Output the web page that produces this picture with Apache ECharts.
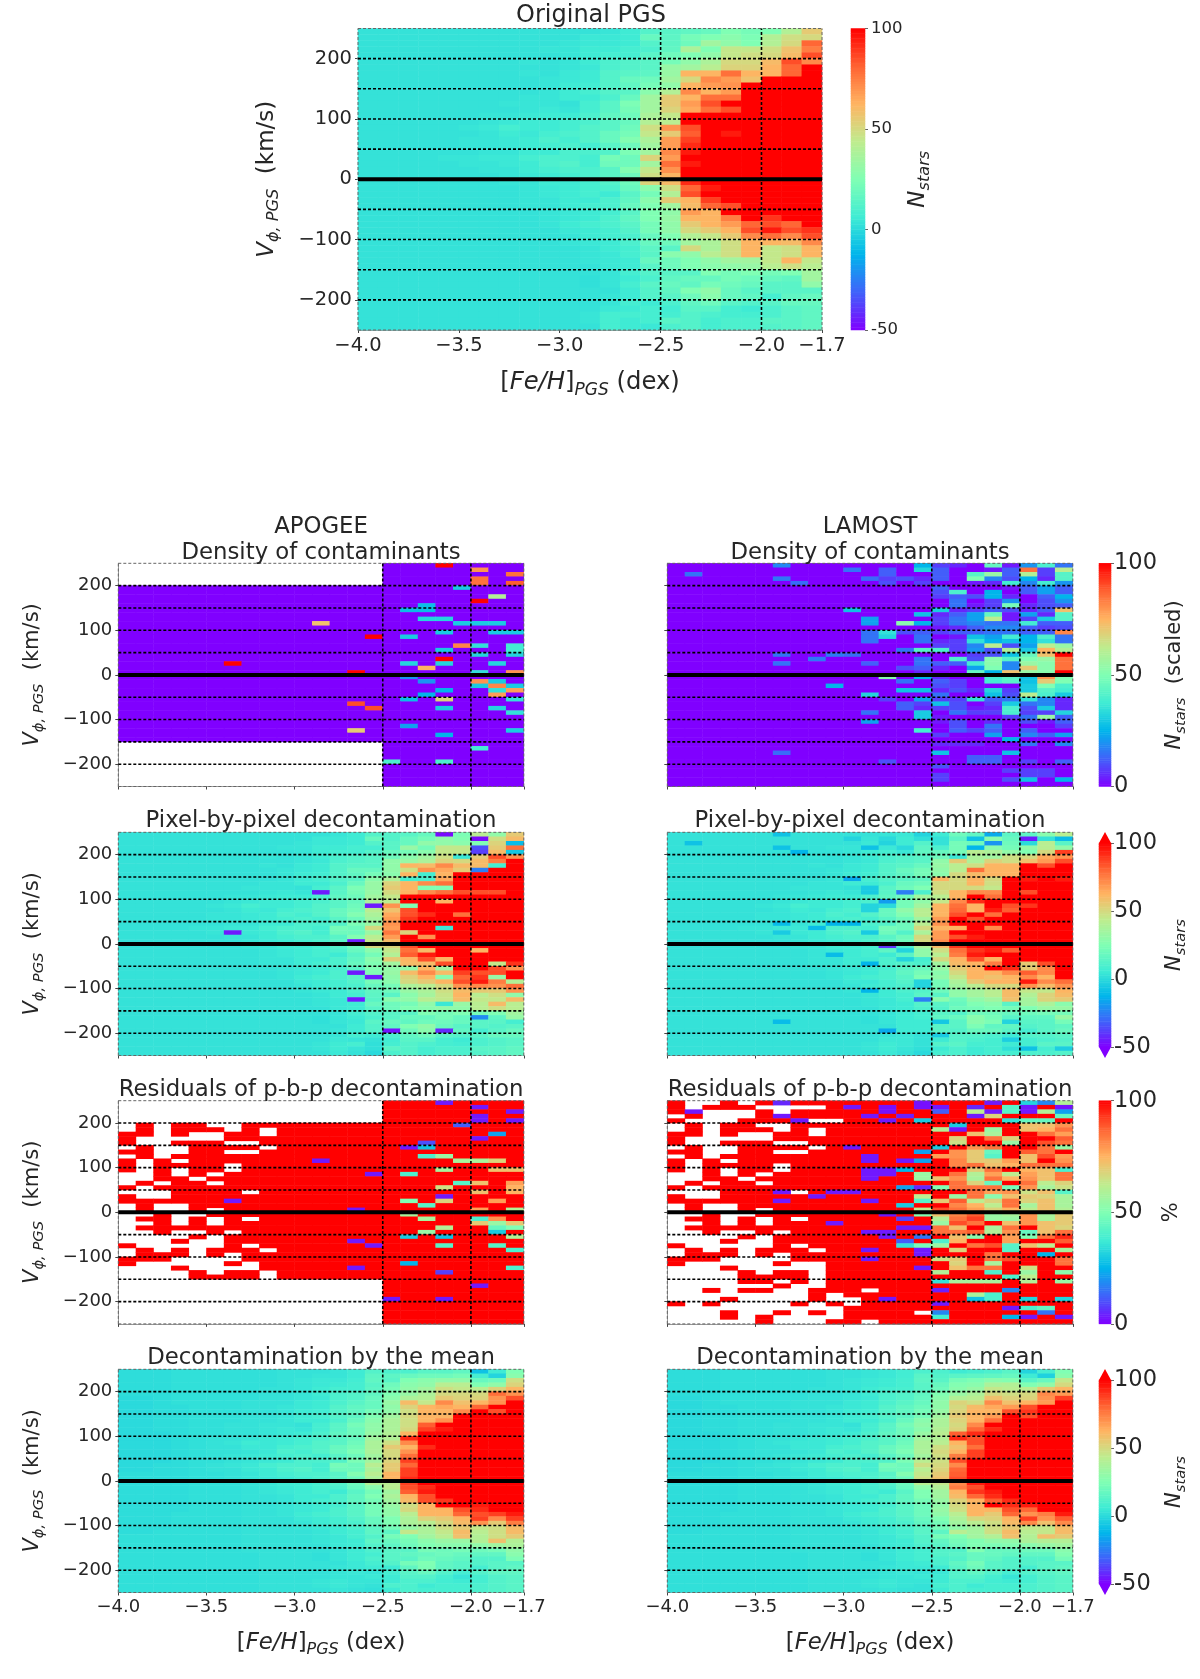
<!DOCTYPE html>
<html><head><meta charset="utf-8">
<style>html,body{margin:0;padding:0;background:#fff}#c{width:1200px;height:1679px;filter:blur(0.5px)}</style>
<script src="https://cdn.jsdelivr.net/npm/echarts@6/dist/echarts.min.js"></script>
</head><body><div id="c"></div>
<script>
const R=100,_=null;
const fehBins=['-4.0','-3.9','-3.8','-3.7','-3.6','-3.5','-3.4','-3.3','-3.2','-3.1','-3.0','-2.9','-2.8','-2.7','-2.6','-2.5','-2.4','-2.3','-2.2','-2.1','-2.0','-1.9','-1.8'];
const vphiBins=[240,230,220,210,200,190,180,170,160,150,140,130,120,110,100,90,80,70,60,50,40,30,20,10,0,-10,-20,-30,-40,-50,-60,-70,-80,-90,-100,-110,-120,-130,-140,-150,-160,-170,-180,-190,-200,-210,-220,-230,-240,-250];
const fehTicks=[-4,-3.5,-3,-2.5,-2,-1.7];
const vphiTicks=[-200,-100,0,100,200];
const dashedVphi=[200,150,100,50,-50,-100,-150,-200];
const dashedFeh=[-2.5,-2];
const originalPgs=[
[3,3,3,3,3,3,3,3,3,3,3,3,4,6,12,14,16,18,25,22,25,40,55],
[3,3,3,3,3,3,3,3,3,3,3,5,5,6,18,15,22,25,28,24,40,48,50],
[3,3,3,3,3,3,3,3,3,3,4,5,5,6,12,15,20,35,30,25,40,50,80],
[3,3,3,3,3,3,3,3,3,4,4,6,6,8,10,16,38,25,45,45,48,58,75],
[3,3,3,3,3,3,3,3,3,3,4,6,8,8,14,20,25,30,45,48,50,60,85],
[3,3,3,3,3,3,3,3,4,3,4,6,10,12,14,22,30,38,50,50,60,85,72],
[3,3,3,3,3,3,3,3,3,3,4,5,10,12,14,32,35,42,52,52,62,80,R],
[3,3,3,3,3,3,3,3,4,3,5,6,12,14,15,32,62,62,78,62,62,80,R],
[3,3,3,3,3,3,3,3,3,4,5,6,12,18,20,35,50,72,68,58,R,R,R],
[3,3,3,3,3,3,3,3,3,4,6,7,12,16,22,30,62,68,70,R,R,R,R],
[3,3,3,3,3,3,3,3,3,4,6,8,12,14,28,40,72,62,68,R,R,R,R],
[3,3,3,3,3,3,3,3,4,4,6,6,10,18,35,55,62,78,78,R,R,R,R],
[3,3,3,3,3,3,3,4,4,4,3,8,14,24,35,55,68,85,R,R,R,R,R],
[3,3,3,3,3,3,3,3,4,5,4,8,14,22,35,52,65,78,85,R,R,R,R],
[3,3,3,3,3,3,4,4,5,6,6,10,16,20,38,45,R,R,R,R,R,R,R],
[3,3,3,3,3,3,4,5,6,6,8,10,14,18,40,42,R,R,R,R,R,R,R],
[3,3,3,3,3,4,5,8,6,6,8,12,14,20,48,70,85,R,R,R,R,R,R],
[3,3,3,3,3,3,4,6,5,8,10,12,18,22,45,55,82,R,95,R,R,R,R],
[3,3,3,3,3,4,4,5,6,10,8,12,18,26,38,68,88,R,R,R,R,R,R],
[3,3,3,3,3,4,4,5,6,8,10,8,14,20,35,68,92,R,R,R,R,R,R],
[3,3,3,3,3,3,4,4,6,6,10,10,12,24,35,72,95,R,R,R,R,R,R],
[3,3,3,3,4,4,5,5,8,10,10,8,22,20,52,68,R,R,R,R,R,R,R],
[3,3,3,3,3,4,4,5,6,10,12,8,20,20,35,78,95,R,R,R,R,R,R],
[3,3,3,3,3,3,4,4,6,8,10,10,14,26,45,70,R,R,R,R,R,R,R],
[3,3,3,3,3,3,3,4,5,6,8,10,14,20,48,62,R,R,R,R,R,R,R],
[3,3,3,3,3,3,3,4,4,6,6,8,12,20,52,60,92,R,R,R,R,R,R],
[3,3,3,3,3,3,3,3,4,5,6,8,10,18,28,48,80,95,R,R,R,R,R],
[3,3,3,3,3,3,3,3,4,5,6,8,6,14,22,40,85,R,R,R,R,R,R],
[3,3,3,3,3,3,3,3,4,4,6,6,10,16,28,55,62,88,R,R,R,R,R],
[3,3,3,3,3,3,3,3,4,4,6,8,10,18,25,35,60,80,85,R,R,R,R],
[3,3,3,3,3,3,3,3,3,4,5,6,8,14,25,30,68,62,R,R,R,R,R],
[3,3,3,3,3,3,3,3,3,4,5,6,10,16,25,32,62,62,75,R,90,R,R],
[3,3,3,3,3,3,3,3,3,4,6,8,10,14,22,30,55,62,68,80,85,80,R],
[3,3,3,3,3,3,3,3,3,3,5,6,8,12,22,30,50,55,62,85,95,85,90],
[3,3,3,3,3,3,3,3,3,3,4,6,8,10,18,25,40,45,55,72,78,72,85],
[3,3,3,3,3,3,3,3,3,3,4,5,6,10,18,20,35,38,48,62,62,60,72],
[3,3,3,3,3,3,3,3,3,3,3,4,6,8,15,14,50,38,48,62,45,48,62],
[3,3,3,3,3,3,3,3,3,3,3,4,5,8,14,28,30,42,48,62,45,48,62],
[3,3,3,3,3,3,3,3,3,3,3,4,5,6,18,20,25,30,35,35,45,62,45],
[3,3,3,3,3,3,3,3,3,3,3,3,5,6,14,20,25,28,30,32,42,48,42],
[3,3,3,3,3,3,3,3,3,3,3,3,4,8,12,14,14,25,22,25,22,25,35],
[3,3,3,3,3,3,3,3,3,3,3,2,4,6,10,16,18,18,22,20,18,16,35],
[3,3,3,3,3,3,3,3,3,3,3,2,4,8,14,18,16,22,20,18,14,14,30],
[3,3,3,3,3,3,3,3,3,3,3,3,3,6,12,16,25,30,18,14,14,14,14],
[3,3,3,3,3,3,3,3,3,3,3,3,4,6,12,14,20,28,18,16,8,16,18],
[3,3,3,3,3,3,3,3,3,3,3,3,4,8,6,10,16,20,14,12,14,18,18],
[3,3,3,3,3,3,3,3,3,3,3,3,5,6,8,7,14,14,8,6,10,14,16],
[3,3,3,3,3,3,3,3,3,3,3,4,8,8,8,8,12,10,8,8,10,14,16],
[3,3,3,3,3,3,3,3,3,3,3,4,8,6,8,14,12,8,10,10,14,14,16],
[3,3,3,3,3,3,3,3,3,3,3,3,8,6,5,10,12,8,10,10,12,14,16]];
const apogeeDensity=[
[_,_,_,_,_,_,_,_,_,_,_,_,_,_,_,0,0,0,R,0,0,0,0],
[_,_,_,_,_,_,_,_,_,_,_,_,_,_,_,0,0,0,0,0,80,0,0],
[_,_,_,_,_,_,_,_,_,_,_,_,_,_,_,0,0,0,0,0,0,0,85],
[_,_,_,_,_,_,_,_,_,_,_,_,_,_,_,0,0,0,0,0,85,0,0],
[_,_,_,_,_,_,_,_,_,_,_,_,_,_,_,0,0,0,0,0,85,0,88],
[0,0,0,0,0,0,0,0,0,0,0,0,0,0,0,0,0,0,0,30,0,0,0],
[0,0,0,0,0,0,0,0,0,0,0,0,0,0,0,0,0,0,0,0,0,0,0],
[0,0,0,0,0,0,0,0,0,0,0,0,0,0,0,0,0,0,0,0,0,60,0],
[0,0,0,0,0,0,0,0,0,0,0,0,0,0,0,0,0,0,0,0,R,0,0],
[0,0,0,0,0,0,0,0,0,0,0,0,0,0,0,0,0,27,0,0,0,0,0],
[0,0,0,0,0,0,0,0,0,0,0,0,0,0,0,0,27,27,0,0,0,0,0],
[0,0,0,0,0,0,0,0,0,0,0,0,0,0,0,0,0,0,0,0,0,0,0],
[0,0,0,0,0,0,0,0,0,0,0,0,0,0,0,0,0,32,32,0,0,0,0],
[0,0,0,0,0,0,0,0,0,0,0,72,0,0,0,0,0,0,0,30,30,30,0],
[0,0,0,0,0,0,0,0,0,0,0,0,0,0,0,0,0,0,0,0,0,0,0],
[0,0,0,0,0,0,0,0,0,0,0,0,0,0,0,0,0,0,30,0,0,30,30],
[0,0,0,0,0,0,0,0,0,0,0,0,0,0,R,0,30,0,0,0,0,0,0],
[0,0,0,0,0,0,0,0,0,0,0,0,0,0,0,0,0,0,0,0,0,0,0],
[0,0,0,0,0,0,0,0,0,0,0,0,0,0,0,0,0,0,0,82,35,0,38],
[0,0,0,0,0,0,0,0,0,0,0,0,0,0,0,0,0,0,30,0,0,0,38],
[0,0,0,0,0,0,0,0,0,0,0,0,0,0,0,0,0,0,0,0,32,0,32],
[0,0,0,0,0,0,0,0,0,0,0,0,0,0,0,0,0,0,R,0,0,0,0],
[0,0,0,0,0,0,R,0,0,0,0,0,0,0,0,0,32,0,32,0,0,32,0],
[0,0,0,0,0,0,0,0,0,0,0,0,0,0,0,0,0,75,0,0,0,0,0],
[0,0,0,0,0,0,0,0,0,0,0,0,0,R,0,0,0,0,0,0,35,0,80],
[0,0,0,0,0,0,0,0,0,0,0,0,0,0,0,0,20,0,0,0,0,0,0],
[0,0,0,0,0,0,0,0,0,0,0,0,0,0,0,0,0,20,0,0,80,30,0],
[0,0,0,0,0,0,0,0,0,0,0,0,0,0,0,0,0,0,0,0,30,82,30],
[0,0,0,0,0,0,0,0,0,0,0,0,0,0,0,0,0,0,25,0,0,35,78],
[0,0,0,0,0,0,0,0,0,0,0,0,0,0,0,0,0,25,0,0,0,78,0],
[0,0,0,0,0,0,0,0,0,0,0,0,0,0,0,0,27,0,68,0,0,0,35],
[0,0,0,0,0,0,0,0,0,0,0,0,0,90,0,0,0,0,0,0,0,0,0],
[0,0,0,0,0,0,0,0,0,0,0,0,0,0,90,0,0,0,30,0,0,32,0],
[0,0,0,0,0,0,0,0,0,0,0,0,0,0,0,0,0,0,0,0,0,0,35],
[0,0,0,0,0,0,0,0,0,0,0,0,0,0,0,0,0,0,0,0,0,0,0],
[0,0,0,0,0,0,0,0,0,0,0,0,0,0,0,0,0,0,0,0,0,0,0],
[0,0,0,0,0,0,0,0,0,0,0,0,0,0,0,0,22,0,0,0,0,0,0],
[0,0,0,0,0,0,0,0,0,0,0,0,0,70,0,0,0,0,0,0,0,0,30],
[0,0,0,0,0,0,0,0,0,0,0,0,0,0,0,0,0,0,25,0,0,0,0],
[0,0,0,0,0,0,0,0,0,0,0,0,0,0,0,0,0,0,0,0,0,0,0],
[_,_,_,_,_,_,_,_,_,_,_,_,_,_,_,0,0,0,0,0,0,0,0],
[_,_,_,_,_,_,_,_,_,_,_,_,_,_,_,0,0,0,0,0,38,0,0],
[_,_,_,_,_,_,_,_,_,_,_,_,_,_,_,0,0,0,0,0,0,0,0],
[_,_,_,_,_,_,_,_,_,_,_,_,_,_,_,0,0,0,0,0,0,0,0],
[_,_,_,_,_,_,_,_,_,_,_,_,_,_,_,40,0,0,40,0,0,0,0],
[_,_,_,_,_,_,_,_,_,_,_,_,_,_,_,0,0,0,0,0,0,0,0],
[_,_,_,_,_,_,_,_,_,_,_,_,_,_,_,0,0,0,0,0,0,0,0],
[_,_,_,_,_,_,_,_,_,_,_,_,_,_,_,0,0,0,0,0,0,0,0],
[_,_,_,_,_,_,_,_,_,_,_,_,_,_,_,0,0,0,0,0,0,0,0],
[_,_,_,_,_,_,_,_,_,_,_,_,_,_,_,0,0,0,0,0,0,0,0]];
const lamostDensity=[
[0,0,0,0,0,0,18,0,0,0,0,0,0,0,25,8,5,0,45,3,20,40,15],
[0,0,0,0,0,0,0,0,0,0,15,0,12,0,32,12,0,0,3,12,85,8,62],
[0,15,0,0,0,0,0,0,0,0,0,0,12,0,0,12,0,42,55,12,60,8,42],
[0,0,0,0,0,0,16,0,0,0,0,14,8,10,5,12,0,50,18,10,25,5,42],
[0,0,0,0,0,0,0,14,0,0,0,0,10,0,8,0,0,3,5,38,18,38,20],
[0,0,0,0,0,0,0,0,0,0,0,0,0,0,0,12,0,0,0,3,12,22,12],
[0,0,0,0,0,0,0,0,0,0,0,0,0,0,0,10,40,0,25,0,12,22,12],
[0,0,0,0,0,0,0,0,0,0,0,0,0,0,0,8,12,10,25,5,0,12,25],
[0,0,0,0,0,0,0,0,0,0,0,0,0,0,0,0,15,0,8,20,0,10,20],
[0,0,0,0,0,0,0,0,0,0,0,0,0,0,0,0,15,3,8,48,5,10,12],
[0,0,0,0,0,0,0,0,0,0,28,0,0,0,0,30,5,8,12,10,5,12,72],
[0,0,0,0,0,0,0,0,0,0,0,0,0,0,28,5,12,22,45,3,22,5,42],
[0,0,0,0,0,0,0,0,0,0,0,22,0,0,0,8,15,22,62,3,8,30,42],
[0,0,0,0,0,0,0,0,0,0,0,22,0,52,25,8,15,18,15,15,38,12,12],
[0,0,0,0,0,0,0,0,0,0,0,0,0,0,0,3,5,12,18,18,12,8,10],
[0,0,0,0,0,0,0,0,0,0,0,15,35,10,12,8,12,12,15,15,12,12,82],
[0,0,0,0,0,0,0,0,0,0,0,15,32,0,15,0,3,28,22,38,25,40,15],
[0,0,0,0,0,0,0,0,0,0,0,15,0,0,15,5,8,35,25,28,25,35,15],
[0,0,0,0,0,0,0,0,0,0,0,0,0,0,0,8,8,18,62,10,22,62,55],
[0,0,0,0,0,0,0,0,0,0,0,0,0,15,42,40,8,20,10,60,30,75,60],
[0,0,0,0,0,0,15,0,0,16,14,0,0,0,0,0,0,8,10,28,45,72,R],
[0,0,0,0,0,0,0,0,16,0,0,0,0,0,15,0,40,10,52,42,50,55,85],
[0,0,0,0,0,0,15,0,0,0,0,12,0,0,15,12,12,38,52,18,55,52,85],
[0,0,0,0,0,0,0,0,0,0,0,0,0,10,12,5,0,22,50,18,70,52,85],
[0,0,0,0,0,0,0,0,0,0,0,0,0,0,5,0,0,45,25,72,55,52,R],
[0,0,0,0,0,0,0,0,0,0,0,0,52,0,25,5,0,0,38,42,28,80,50],
[0,0,0,0,0,0,0,0,0,0,0,0,0,15,0,12,8,0,38,42,28,70,50],
[0,0,0,0,0,0,0,0,0,25,0,0,0,0,0,10,8,0,0,0,30,50,40],
[0,0,0,0,0,0,0,0,0,0,0,0,0,28,28,5,10,5,32,8,30,42,38],
[0,0,0,0,0,0,0,0,0,0,0,32,0,0,0,15,0,0,28,10,62,40,30],
[0,0,0,0,0,0,0,0,0,0,0,0,8,0,22,8,8,35,12,15,35,18,5],
[0,0,0,0,0,0,0,0,0,0,0,0,0,12,8,28,10,0,8,30,15,18,5],
[0,0,0,0,0,0,0,0,0,0,0,0,0,12,5,8,10,3,5,40,10,30,5],
[0,0,0,0,0,0,0,0,0,0,0,15,0,0,30,0,15,8,8,40,8,8,32],
[0,0,0,0,0,0,0,0,0,0,0,0,0,0,30,3,0,0,0,8,15,55,12],
[0,0,0,0,0,0,0,0,0,0,0,22,0,0,0,3,10,0,5,0,10,3,12],
[0,0,0,0,0,0,0,0,0,0,0,0,0,0,0,0,10,0,15,0,0,0,8],
[0,0,0,0,0,0,0,0,0,0,0,0,0,0,38,0,12,8,12,0,12,0,0],
[0,0,0,0,0,0,0,0,0,0,0,0,0,0,0,8,0,0,22,0,18,12,22],
[0,0,0,0,0,0,0,0,0,0,0,0,0,0,0,0,0,0,0,25,0,0,0],
[0,0,0,0,0,0,0,0,0,0,0,0,0,0,0,5,5,5,0,0,15,0,18],
[0,0,0,0,0,0,0,0,0,0,0,0,0,0,0,0,0,0,0,0,0,0,0],
[0,0,0,0,0,0,14,0,0,0,0,0,0,0,0,28,0,0,0,28,0,0,0],
[0,0,0,0,0,0,0,0,0,0,0,0,0,0,0,0,0,12,12,0,0,0,0],
[0,0,0,0,0,0,0,0,0,0,0,0,10,0,0,0,0,12,12,0,8,0,12],
[0,0,0,0,0,0,0,0,0,0,0,0,0,0,0,10,0,0,0,0,0,0,0],
[0,0,0,0,0,0,0,0,0,0,0,0,0,0,0,0,0,0,0,8,8,8,0],
[0,0,0,0,0,0,0,0,0,0,0,0,0,0,0,8,0,0,0,0,8,8,0],
[0,0,0,0,0,0,0,0,0,0,0,0,0,0,0,8,0,0,0,10,28,0,25],
[0,0,0,0,0,0,0,0,0,0,0,0,0,0,0,0,0,0,0,0,0,0,0]];
const apogeePixel=[
[3,3,3,3,3,3,3,3,3,3,3,3,4,6,12,12,14,18,-48,24,42,30,55],
[3,3,3,3,3,3,3,3,3,3,3,5,5,6,18,12,18,22,30,26,-48,48,60],
[3,3,3,3,3,3,3,3,3,3,4,5,5,6,12,14,18,30,30,28,25,52,-10],
[3,3,3,3,3,3,3,3,3,4,4,6,6,8,8,14,32,22,45,45,-35,55,78],
[3,3,3,3,3,3,3,3,3,3,4,6,8,8,12,18,22,28,45,45,-38,60,-6],
[3,3,3,3,3,3,3,3,4,3,4,6,10,12,14,20,28,35,48,5,55,85,70],
[3,3,3,3,3,3,3,3,3,3,4,5,10,12,14,30,32,38,52,50,60,75,R],
[3,3,3,3,3,3,3,3,4,3,5,6,12,14,14,30,62,60,72,60,60,8,R],
[3,3,3,3,3,3,3,3,3,4,5,6,12,18,18,30,48,70,65,55,-25,R,R],
[3,3,3,3,3,3,3,3,3,4,6,7,12,16,22,28,62,8,62,R,R,R,R],
[3,3,3,3,3,3,3,3,3,4,6,8,12,14,28,38,8,10,65,R,R,R,R],
[3,3,3,3,3,3,3,3,4,4,6,6,10,18,32,52,62,72,78,R,R,R,R],
[3,3,3,3,3,3,3,4,4,4,3,8,14,24,32,55,62,25,25,R,R,R,R],
[3,3,3,3,3,3,3,3,4,5,4,-45,14,22,32,50,62,72,78,85,85,85,R],
[3,3,3,3,3,3,4,4,5,6,6,10,16,20,35,45,R,R,R,R,R,R,R],
[3,3,3,3,3,3,4,5,6,6,8,10,14,18,38,42,R,R,62,R,R,R,R],
[3,3,3,3,3,4,5,8,6,6,8,12,14,20,-45,70,25,R,R,R,R,R,R],
[3,3,3,3,3,3,4,6,5,8,10,12,18,22,42,58,85,R,R,R,R,R,R],
[3,3,3,3,3,4,4,5,6,10,8,12,18,26,38,65,85,92,R,78,R,R,R],
[3,3,3,3,3,4,4,5,6,8,10,8,14,20,35,68,90,R,R,R,R,R,R],
[3,3,3,3,3,3,4,4,6,6,10,10,12,24,33,70,R,R,R,R,R,R,R],
[3,3,3,3,4,4,5,5,8,10,10,8,22,20,50,68,R,R,5,R,R,R,R],
[3,3,3,3,3,4,-45,5,6,10,12,8,20,20,33,76,52,R,R,R,R,R,R],
[3,3,3,3,3,3,4,4,6,8,10,10,14,26,42,68,R,70,R,R,R,R,R],
[3,3,3,3,3,3,3,4,5,6,8,10,14,-45,45,60,R,R,R,R,R,R,R],
[3,3,3,3,3,3,3,4,4,6,6,8,12,20,50,52,85,R,R,R,R,R,R],
[3,3,3,3,3,3,3,3,4,5,6,8,10,18,28,45,78,60,R,R,62,R,R],
[3,3,3,3,3,3,3,3,4,5,6,8,6,14,22,40,82,95,R,R,R,R,R],
[3,3,3,3,3,3,3,3,4,4,6,6,10,16,28,55,62,85,62,R,R,R,R],
[3,3,3,3,3,3,3,3,4,4,6,8,10,18,25,35,60,60,85,R,R,45,90],
[3,3,3,3,3,3,3,3,3,4,5,6,8,14,25,30,30,62,35,R,R,85,70],
[3,3,3,3,3,3,3,3,3,4,5,6,10,-45,25,32,60,72,60,88,85,85,R],
[3,3,3,3,3,3,3,3,3,4,6,8,10,14,-45,30,52,62,28,80,90,32,R],
[3,3,3,3,3,3,3,3,3,3,5,6,8,12,22,28,50,55,62,85,95,75,40],
[3,3,3,3,3,3,3,3,3,3,4,6,8,10,18,22,38,42,50,70,72,70,78],
[3,3,3,3,3,3,3,3,3,3,4,5,6,10,16,20,32,38,48,60,55,55,70],
[3,3,3,3,3,3,3,3,3,3,3,4,6,8,15,14,28,36,46,62,42,48,30],
[3,3,3,3,3,3,3,3,3,3,3,4,5,-45,14,28,30,42,45,60,45,45,60],
[3,3,3,3,3,3,3,3,3,3,3,4,5,6,18,20,22,30,5,32,42,60,42],
[3,3,3,3,3,3,3,3,3,3,3,3,5,6,14,20,25,28,30,30,42,48,42],
[3,3,3,3,3,3,3,3,3,3,3,3,4,8,12,14,14,25,22,25,22,25,35],
[3,3,3,3,3,3,3,3,3,3,3,2,4,6,10,14,18,18,22,18,-22,16,32],
[3,3,3,3,3,3,3,3,3,3,3,2,4,5,14,18,16,20,20,18,14,14,8],
[3,3,3,3,3,3,3,3,3,3,3,3,3,6,12,16,25,30,18,14,14,12,14],
[3,3,3,3,3,3,3,3,3,3,3,3,4,6,12,-46,20,28,-42,16,8,14,18],
[3,3,3,3,3,3,3,3,3,3,3,3,4,8,6,10,16,20,14,12,14,18,18],
[3,3,3,3,3,3,3,3,3,3,3,3,5,4,3,7,14,14,8,6,10,12,14],
[3,3,3,3,3,3,3,3,3,3,3,4,6,8,2,8,12,10,8,7,10,12,14],
[3,3,3,3,3,3,3,3,3,3,3,4,6,4,2,14,12,8,10,10,14,14,16],
[3,3,3,3,3,3,3,3,3,3,3,3,5,3,0,10,12,8,10,10,12,14,16]];
const lamostPixel=[
[3,3,3,3,3,3,-8,3,3,3,3,3,4,5,-2,6,20,16,-15,15,15,28,42],
[3,3,3,3,3,3,3,3,3,3,-2,4,0,6,2,3,15,-8,28,18,-45,3,-10],
[3,-8,3,3,3,3,3,3,3,3,3,5,-2,6,12,3,22,20,-20,20,0,42,14],
[3,3,3,3,3,3,-8,3,3,4,4,-8,5,0,15,10,22,-12,28,22,30,42,30],
[3,3,3,3,3,3,3,-12,3,3,4,6,8,5,16,18,22,42,38,30,25,50,88],
[3,3,3,3,3,3,3,3,4,3,4,6,10,12,14,20,5,38,35,48,50,65,70],
[3,3,3,3,3,3,3,3,3,3,4,5,10,12,14,30,55,38,52,48,58,68,85],
[3,3,3,3,3,3,3,3,4,3,5,6,12,14,18,32,42,48,62,62,R,85,R],
[3,3,3,3,3,3,3,3,3,4,5,6,12,18,22,30,42,78,62,62,R,R,R],
[3,3,3,3,3,3,3,3,3,4,6,7,12,16,22,28,50,60,62,62,R,R,R],
[3,3,3,3,3,3,3,3,3,4,-15,8,12,14,16,62,50,62,50,R,95,R,95],
[3,3,3,3,3,3,3,3,4,4,6,6,10,18,20,50,50,62,48,R,R,R,R],
[3,3,3,3,3,3,3,4,4,4,3,-5,14,20,25,50,50,50,45,R,R,R,R],
[3,3,3,3,3,3,3,3,4,5,4,-5,14,-25,10,48,62,72,72,R,85,R,R],
[3,3,3,3,3,3,4,4,5,6,6,10,16,20,35,42,62,R,78,R,R,R,R],
[3,3,3,3,3,3,4,5,6,6,8,10,-18,22,30,45,72,92,R,R,R,R,R],
[3,3,3,3,3,4,5,8,6,6,8,-2,0,22,35,62,78,62,R,85,90,R,R],
[3,3,3,3,3,3,4,6,5,8,10,-2,18,30,42,62,80,62,95,82,R,R,R],
[3,3,3,3,3,4,4,5,6,10,8,12,18,26,42,62,85,R,78,R,R,R,R],
[3,3,3,3,3,4,4,5,6,8,10,8,14,20,35,68,R,85,R,R,R,R,R],
[3,3,3,3,3,3,-10,4,6,-12,-12,10,12,20,42,70,R,R,R,R,R,R,R],
[3,3,3,3,4,4,5,5,-10,10,10,8,22,20,50,62,62,R,72,R,R,R,R],
[3,3,3,3,3,4,-5,5,6,10,12,-5,20,12,38,68,R,R,R,R,R,R,R],
[3,3,3,3,3,3,4,4,6,8,10,10,14,20,50,68,85,95,R,R,R,R,R],
[3,3,3,3,3,3,3,4,5,6,8,10,14,20,50,72,R,R,R,R,R,R,R],
[3,3,3,3,3,3,3,4,4,6,6,8,-40,10,38,60,90,R,R,R,R,R,R],
[3,3,3,3,3,3,3,3,4,5,6,8,15,-2,30,48,78,90,95,82,R,R,R],
[3,3,3,3,3,3,3,3,4,-10,6,8,6,14,30,42,75,95,R,R,R,R,R],
[3,3,3,3,3,3,3,3,4,4,6,6,10,-2,8,50,62,85,62,R,R,R,R],
[3,3,3,3,3,3,3,3,4,4,6,-12,10,12,10,35,60,62,75,R,55,85,R],
[3,3,3,3,3,3,3,3,3,4,5,6,8,14,18,32,55,62,R,92,55,72,R],
[3,3,3,3,3,3,3,3,3,4,5,6,10,16,22,28,50,62,62,72,82,72,R],
[3,3,3,3,3,3,3,3,3,4,6,8,10,14,25,30,45,62,58,62,72,62,R],
[3,3,3,3,3,3,3,3,3,3,5,5,8,12,-2,22,38,55,62,62,95,72,78],
[3,3,3,3,3,3,3,3,3,3,4,6,8,10,-2,22,35,42,50,50,70,60,70],
[3,3,3,3,3,3,3,3,3,3,4,-12,6,10,12,20,30,36,42,60,45,45,62],
[3,3,3,3,3,3,3,3,3,3,3,4,6,8,14,14,30,36,42,60,40,52,60],
[3,3,3,3,3,3,3,3,3,3,3,4,5,8,-25,28,20,30,35,58,36,52,55],
[3,3,3,3,3,3,3,3,3,3,3,4,5,6,12,14,18,25,28,14,35,38,28],
[3,3,3,3,3,3,3,3,3,3,3,3,5,6,10,12,20,22,25,22,25,32,32],
[3,3,3,3,3,3,3,3,3,3,3,3,4,6,8,14,12,20,20,18,20,22,22],
[3,3,3,3,3,3,3,3,3,3,3,2,4,6,8,16,18,28,22,14,16,16,32],
[3,3,3,3,3,3,-10,3,3,3,3,2,4,6,6,-6,14,28,24,-2,14,14,22],
[3,3,3,3,3,3,3,3,3,3,3,3,3,6,6,14,14,24,16,16,12,14,16],
[3,3,3,3,3,3,3,3,3,3,3,3,-15,6,6,14,12,18,18,14,8,14,18],
[3,3,3,3,3,3,3,3,3,3,3,3,4,5,3,-5,12,12,10,6,12,12,14],
[3,3,3,3,3,3,3,3,3,3,3,3,5,5,3,6,12,10,8,-4,8,10,12],
[3,3,3,3,3,3,3,3,3,3,3,4,6,5,3,12,14,8,8,6,8,14,14],
[3,3,3,3,3,3,3,3,3,3,3,4,6,4,2,6,10,6,8,2,-8,8,-4],
[3,3,3,3,3,3,3,3,3,3,3,3,5,3,0,8,10,6,8,8,10,10,12]];
const apogeeResidual=[
[_,_,_,_,_,_,_,_,_,_,_,_,_,_,_,R,R,R,3,R,R,R,R],
[_,_,_,_,_,_,_,_,_,_,_,_,_,_,_,R,R,R,R,R,3,R,R],
[_,_,_,_,_,_,_,_,_,_,_,_,_,_,_,R,R,R,R,R,R,R,3],
[_,_,_,_,_,_,_,_,_,_,_,_,_,_,_,R,R,R,R,R,3,R,R],
[_,_,_,_,_,_,_,_,_,_,_,_,_,_,_,R,R,R,R,R,3,R,3],
[_,R,_,R,R,_,_,R,R,R,R,R,R,R,R,R,R,R,R,12,R,R,R],
[_,R,_,R,R,R,_,R,_,R,R,R,R,R,R,R,R,R,R,R,R,R,R],
[R,R,_,R,_,_,R,R,_,R,R,R,R,R,R,R,R,R,R,R,R,22,R],
[R,_,_,_,_,_,R,R,R,R,R,R,R,R,R,R,R,R,R,R,3,R,R],
[R,_,_,R,R,R,_,_,R,R,R,R,R,R,R,R,R,10,R,R,R,R,R],
[_,R,_,_,R,R,R,R,_,R,R,R,R,R,R,R,3,28,R,R,R,R,R],
[R,R,_,_,R,R,_,_,R,R,R,R,R,R,R,R,R,R,R,R,R,R,R],
[_,R,_,R,R,R,R,R,R,R,R,R,R,R,R,R,R,40,55,R,R,R,R],
[R,_,R,_,R,R,R,R,R,R,R,3,R,R,R,R,R,R,R,58,58,68,R],
[R,_,R,R,R,R,_,R,R,R,R,R,R,R,R,R,R,R,R,R,R,R,R],
[R,_,R,_,R,R,_,R,R,R,R,R,R,R,R,R,R,R,58,R,R,72,72],
[_,_,R,_,R,_,R,R,R,R,R,R,R,R,3,R,40,R,R,R,R,R,R],
[_,_,R,R,_,R,R,R,R,R,R,R,R,R,R,R,R,R,R,R,R,R,R],
[_,R,_,R,R,_,R,R,R,R,R,R,R,R,R,R,R,R,R,42,72,R,78],
[R,_,R,R,R,R,R,R,R,R,R,R,R,R,R,R,R,R,65,R,R,R,75],
[_,_,_,R,R,R,R,_,R,R,R,R,R,R,R,R,R,R,R,R,72,R,75],
[R,_,_,R,R,R,R,R,R,R,R,R,R,R,R,R,R,R,3,R,R,R,R],
[R,R,R,R,R,R,3,R,R,R,R,R,R,R,R,R,50,R,68,R,R,78,R],
[_,R,_,_,R,R,R,R,R,R,R,R,R,R,R,R,R,42,R,R,R,R,R],
[_,R,_,_,R,_,R,R,R,R,R,R,R,3,R,R,R,R,R,R,78,R,60],
[_,_,R,_,_,R,R,R,R,R,R,R,R,R,R,R,58,R,R,R,R,R,R],
[_,R,R,_,R,_,R,_,R,R,R,R,R,R,R,R,R,58,R,R,40,80,R],
[_,_,R,_,R,_,R,R,R,R,R,R,R,R,R,R,R,R,R,R,70,55,70],
[_,R,R,R,R,R,R,R,R,R,R,R,R,R,R,R,R,R,60,R,R,45,50],
[_,_,R,_,_,R,_,R,R,R,R,R,R,R,R,R,R,55,R,R,R,30,R],
[_,_,_,_,R,_,R,R,R,R,R,R,R,R,R,R,30,R,28,R,R,R,60],
[_,_,_,R,_,_,R,R,R,R,R,R,R,3,R,R,R,R,R,R,R,R,R],
[R,_,_,_,_,_,R,_,R,R,R,R,R,R,3,R,R,R,42,R,R,42,R],
[_,R,_,R,_,R,R,R,_,R,R,R,R,R,R,R,R,R,R,R,R,R,40],
[_,R,R,R,_,R,_,R,R,R,R,R,R,R,R,R,R,R,R,R,R,R,R],
[R,R,R,_,_,_,_,R,R,R,R,R,R,R,R,R,R,R,R,R,R,R,R],
[R,_,_,_,_,_,R,_,R,R,R,R,R,R,R,R,25,R,R,R,R,R,R],
[_,_,_,R,_,_,_,_,R,R,R,R,R,3,R,R,R,R,R,R,R,R,40],
[_,_,_,_,R,_,R,R,_,R,R,R,R,R,R,R,R,R,8,R,R,R,R],
[_,_,_,_,R,R,R,R,_,R,R,R,R,R,R,R,R,R,R,R,R,R,R],
[_,_,_,_,_,_,_,_,_,_,_,_,_,_,_,R,R,R,R,R,R,R,R],
[_,_,_,_,_,_,_,_,_,_,_,_,_,_,_,R,R,R,R,R,3,R,R],
[_,_,_,_,_,_,_,_,_,_,_,_,_,_,_,R,R,R,R,R,R,R,R],
[_,_,_,_,_,_,_,_,_,_,_,_,_,_,_,R,R,R,R,R,R,R,R],
[_,_,_,_,_,_,_,_,_,_,_,_,_,_,_,3,R,R,3,R,R,R,R],
[_,_,_,_,_,_,_,_,_,_,_,_,_,_,_,R,R,R,R,R,R,R,R],
[_,_,_,_,_,_,_,_,_,_,_,_,_,_,_,R,R,R,R,R,R,R,R],
[_,_,_,_,_,_,_,_,_,_,_,_,_,_,_,R,R,R,R,R,R,R,R],
[_,_,_,_,_,_,_,_,_,_,_,_,_,_,_,R,R,R,R,R,R,R,R],
[_,_,_,_,_,_,_,_,_,_,_,_,_,_,_,R,R,R,R,R,R,R,R]];
const lamostResidual=[
[R,_,_,R,_,R,5,R,R,R,R,R,R,R,2,R,R,R,3,R,32,18,60],
[R,_,R,R,R,_,_,_,_,R,3,R,2,R,2,3,R,5,R,42,3,R,2],
[R,3,_,_,_,R,_,R,R,R,R,R,2,R,R,12,R,62,3,42,3,60,22],
[_,R,_,_,_,R,3,R,R,R,R,3,R,4,R,R,R,3,68,R,R,R,45],
[R,_,_,_,R,R,R,3,_,_,R,R,3,R,30,R,R,R,R,35,45,45,R],
[_,R,_,R,R,_,_,R,R,R,R,R,R,R,R,R,30,R,R,R,72,72,80],
[_,R,_,R,R,R,_,R,_,R,R,R,R,R,R,60,3,R,55,R,72,75,85],
[R,R,_,R,_,_,R,R,_,R,R,R,R,R,R,R,R,72,58,R,R,85,78],
[R,_,_,_,_,_,R,R,R,R,R,R,R,R,R,R,68,R,85,68,R,R,88],
[R,_,_,R,R,R,_,_,R,R,R,R,R,R,R,R,65,R,R,55,R,90,85],
[_,R,_,_,R,R,R,R,_,R,3,R,R,R,R,30,R,80,85,R,R,85,55],
[R,R,_,_,R,R,_,_,R,R,R,R,R,R,22,R,80,70,45,R,88,85,R],
[_,R,_,R,R,R,R,R,R,R,R,3,R,R,R,78,80,70,42,R,72,90,78],
[R,_,R,_,R,R,R,R,R,R,R,3,R,3,22,R,82,70,70,78,72,R,80],
[R,_,R,R,R,R,_,R,R,R,R,R,R,R,R,R,82,85,72,75,85,85,85],
[R,_,R,_,R,R,_,R,R,R,R,3,3,25,R,R,R,70,85,R,75,72,40],
[_,_,R,_,R,_,R,R,R,R,R,3,3,R,55,R,85,60,78,62,78,72,85],
[_,_,R,R,_,R,R,R,R,R,R,3,R,R,55,72,80,58,85,75,80,72,85],
[_,R,_,R,R,_,R,R,R,R,R,R,R,R,R,R,85,68,45,R,85,62,68],
[R,_,R,R,R,R,R,R,R,R,R,R,R,22,5,50,85,85,85,48,80,58,65],
[_,_,_,R,R,R,3,_,R,3,3,R,R,R,R,R,R,85,78,80,65,72,42],
[R,_,_,R,R,R,R,R,3,R,R,R,R,R,62,R,55,85,52,72,70,68,58],
[R,R,R,R,R,R,3,R,R,R,R,3,R,R,42,70,88,62,68,85,68,72,58],
[_,R,_,_,R,R,R,R,R,R,R,R,R,30,R,R,82,75,62,85,58,72,58],
[_,R,_,_,R,_,R,R,R,R,R,R,R,R,62,90,85,78,68,75,62,72,60],
[_,_,R,_,_,R,R,R,R,R,R,R,3,R,50,72,82,88,55,58,80,58,70],
[_,R,R,_,R,_,R,_,R,R,R,R,R,8,R,60,85,92,55,55,80,58,70],
[_,_,R,_,R,_,R,R,R,3,R,R,R,R,R,55,90,85,R,72,80,72,70],
[_,R,R,R,R,R,R,R,R,R,R,R,R,3,3,85,72,R,58,85,R,72,68],
[_,_,R,_,_,R,_,R,R,R,R,3,3,R,R,85,85,88,60,80,45,72,85],
[_,_,_,_,R,_,R,R,R,R,R,R,3,R,15,R,72,52,R,78,50,85,95],
[_,_,_,R,_,_,R,R,R,R,R,R,R,12,R,40,75,R,R,78,R,R,88],
[R,_,_,_,_,_,R,_,R,R,R,R,R,35,48,55,R,85,90,42,72,62,R],
[_,R,_,R,_,R,R,R,_,R,R,3,R,R,3,R,68,R,R,42,R,R,58],
[_,R,R,R,_,R,_,R,R,R,R,R,R,R,3,R,R,R,85,R,R,25,R],
[R,R,R,_,_,_,_,R,R,R,R,3,R,R,R,65,70,R,85,90,R,R,85],
[R,_,_,_,_,_,R,_,_,R,R,R,R,R,R,R,68,R,58,R,R,R,85],
[_,_,_,R,_,_,_,_,_,R,R,R,R,R,3,R,72,85,85,R,65,R,R],
[_,_,_,_,R,_,R,R,_,R,R,R,R,R,R,60,R,R,40,R,55,R,52],
[_,_,_,_,R,R,R,R,_,R,R,R,R,R,R,R,R,R,R,40,62,R,R],
[_,_,_,_,R,R,_,R,_,R,R,R,R,R,R,35,58,58,58,R,60,R,55],
[_,_,_,_,_,_,R,_,_,R,R,R,R,R,R,R,R,R,R,R,R,R,R],
[_,_,R,_,R,R,_,_,R,R,R,_,R,R,R,4,R,R,R,18,R,R,R],
[_,_,_,_,_,_,_,_,R,_,R,R,R,R,R,R,R,58,40,R,R,R,R],
[_,_,_,R,_,_,_,_,R,_,_,R,3,R,R,R,R,28,40,R,32,R,32],
[R,_,R,_,_,_,_,R,_,R,_,R,R,R,R,3,R,R,R,R,R,R,R],
[_,_,_,_,_,_,_,_,_,_,R,R,R,R,R,R,R,R,R,3,40,45,R],
[_,_,_,R,_,_,R,_,R,_,R,R,R,R,_,18,R,R,R,R,R,15,R],
[_,_,_,R,_,R,_,_,_,_,R,R,R,R,R,38,R,R,R,25,3,R,3],
[_,_,_,_,_,R,_,_,_,R,R,_,R,R,R,R,R,R,R,R,R,R,R]];
const apogeeMean=[
[1,1,1,2,2,2,2,2,2,3,3,3,4,6,12,10,10,14,14,16,-8,6,25],
[1,1,1,2,2,2,2,2,2,3,3,4,4,6,15,15,18,20,20,22,8,-2,28],
[1,1,1,2,2,2,2,2,2,3,4,5,5,7,16,14,25,28,30,30,18,20,48],
[1,1,1,2,2,2,2,2,2,3,4,5,6,8,14,20,28,30,42,42,25,30,52],
[1,1,1,2,2,2,2,2,3,3,4,6,8,8,15,22,30,35,48,45,42,52,62],
[1,1,1,2,2,2,2,2,3,3,4,6,10,12,16,25,32,38,50,50,50,78,70],
[0,0,1,2,2,2,2,2,3,3,4,5,10,12,18,28,38,40,55,52,52,70,85],
[0,0,1,2,2,2,2,3,3,3,5,6,10,14,18,32,60,45,72,58,62,70,R],
[0,0,1,1,2,2,2,3,3,4,5,6,12,16,18,30,52,62,65,62,80,R,R],
[0,0,1,1,2,2,2,3,3,4,6,7,12,16,22,30,48,62,62,72,R,85,R],
[0,0,1,1,2,2,2,3,3,4,6,8,12,15,25,35,50,62,62,R,R,R,R],
[0,0,1,1,2,2,2,3,3,4,6,6,10,18,28,38,48,62,70,R,R,R,R],
[0,0,1,1,2,2,3,3,4,4,3,8,14,22,30,38,48,82,R,R,R,R,R],
[0,0,1,1,2,2,3,3,4,5,4,8,14,20,30,38,50,88,95,R,R,R,R],
[0,0,0,1,2,2,3,3,4,5,6,10,16,20,32,40,62,R,R,R,R,R,R],
[0,0,0,1,2,3,3,4,5,6,8,10,14,18,35,40,92,R,R,R,R,R,R],
[0,0,0,1,2,3,4,6,5,6,8,12,14,20,38,48,72,R,R,R,R,R,R],
[0,0,0,1,2,3,3,5,5,8,10,12,18,22,38,55,62,92,R,R,R,R,R],
[0,0,0,1,2,3,3,4,5,10,8,12,18,24,38,50,70,R,R,R,R,R,R],
[0,0,0,1,2,3,4,5,6,8,10,8,14,20,35,50,78,R,R,R,R,R,R],
[0,0,0,1,2,2,3,4,5,6,10,10,12,24,35,52,88,R,R,R,R,R,R],
[0,0,1,1,2,3,4,5,8,10,10,8,22,20,42,55,80,R,R,R,R,R,R],
[0,0,1,1,2,3,3,5,6,10,12,8,20,20,38,55,88,R,R,R,R,R,R],
[1,1,1,1,2,2,3,4,6,8,10,10,14,26,42,62,88,R,R,R,R,R,R],
[1,1,1,1,2,2,3,4,5,6,8,10,14,20,38,62,92,R,R,R,R,R,R],
[1,1,1,1,2,2,2,3,4,6,6,8,12,20,40,42,88,R,R,R,R,R,R],
[1,1,1,1,2,2,2,3,4,5,6,8,10,18,28,42,85,92,R,R,R,R,R],
[1,1,1,1,2,2,2,3,4,5,6,8,6,14,22,35,82,95,R,R,R,R,R],
[1,1,1,1,2,2,2,3,3,4,6,6,10,16,25,38,62,85,R,R,R,R,R],
[1,1,1,1,2,2,2,3,3,4,6,8,10,16,22,35,60,85,90,R,R,R,R],
[1,1,1,1,2,2,2,3,3,4,5,6,8,14,22,32,48,62,R,R,95,R,R],
[1,1,1,1,2,2,2,3,3,4,5,6,10,14,22,30,50,62,62,85,92,R,R],
[1,1,1,2,2,2,2,3,3,4,6,8,10,14,22,30,42,62,62,80,85,88,95],
[1,1,1,2,2,2,2,3,3,3,5,6,8,12,18,25,38,52,55,62,88,72,88],
[1,1,1,2,2,2,2,3,3,3,4,6,8,10,18,25,38,42,50,60,70,55,75],
[1,1,1,2,2,2,2,3,3,3,4,5,6,10,15,22,32,38,48,55,45,48,60],
[1,1,2,2,2,2,2,3,3,3,3,4,6,8,15,15,45,38,45,60,42,48,60],
[2,2,2,2,2,2,2,3,3,3,3,4,5,8,12,22,25,35,42,58,40,48,55],
[2,2,2,2,2,2,2,3,3,3,3,4,5,6,15,18,22,28,32,32,40,58,40],
[2,2,2,2,2,2,2,3,3,3,3,3,5,6,12,15,20,25,28,28,30,35,38],
[2,2,2,2,2,2,2,3,3,3,3,3,4,6,10,14,14,22,20,22,20,22,30],
[2,2,2,2,2,2,2,2,3,3,3,2,4,6,8,14,16,18,20,18,16,16,28],
[2,2,2,2,2,2,2,2,3,3,3,2,4,6,10,14,14,20,18,16,12,12,24],
[2,2,2,2,2,2,2,2,3,3,3,3,3,5,8,12,22,25,16,14,12,14,14],
[2,2,2,2,2,2,2,2,3,3,3,3,4,5,6,6,16,24,16,14,8,14,16],
[2,2,2,2,2,2,2,2,3,3,3,3,4,5,4,8,14,18,12,8,12,16,16],
[2,2,2,2,2,2,2,2,3,3,3,3,4,4,5,6,12,12,8,4,8,12,14],
[2,2,2,2,2,2,2,2,3,3,3,4,5,4,4,6,10,10,7,6,8,12,14],
[2,2,2,2,2,2,2,2,3,3,3,4,5,4,3,10,10,6,8,8,10,12,14],
[2,2,2,2,2,2,2,2,3,3,3,3,4,3,2,6,10,8,8,8,10,12,14]];
const lamostMean=[
[1,1,1,2,2,2,2,2,2,3,3,4,5,7,10,10,6,8,10,14,-2,8,25],
[1,1,1,2,2,2,2,2,2,3,3,4,5,7,14,12,14,15,16,18,6,-3,28],
[1,1,1,2,2,2,2,2,2,3,4,5,6,8,15,14,22,24,28,26,14,18,45],
[1,1,1,2,2,2,2,2,2,3,4,5,6,8,14,18,26,28,38,40,25,30,50],
[1,1,1,2,2,2,2,2,3,3,4,6,8,9,14,20,28,32,45,42,42,55,62],
[1,1,1,2,2,2,2,2,3,3,4,6,10,12,16,25,32,38,50,48,50,72,68],
[0,0,1,2,2,2,2,2,3,3,4,5,10,12,17,28,40,42,58,52,52,70,88],
[0,0,1,2,2,2,2,3,3,3,5,6,10,14,18,30,52,48,72,58,62,68,R],
[0,0,1,1,2,2,2,3,3,4,5,6,12,16,20,30,50,60,65,68,85,R,R],
[0,0,1,1,2,2,2,3,3,4,6,7,12,16,22,32,52,62,62,85,90,R,R],
[0,0,1,1,2,2,2,3,3,4,6,8,12,15,22,35,55,62,68,R,85,R,R],
[0,0,1,1,2,2,2,3,3,4,6,6,10,18,28,38,52,62,78,R,R,R,R],
[0,0,1,1,2,2,3,3,4,4,3,8,14,22,30,38,50,72,R,R,R,R,R],
[0,0,1,1,2,2,3,3,4,5,4,8,14,20,28,40,52,80,92,R,R,R,R],
[0,0,0,1,2,2,3,3,4,5,6,10,16,20,32,42,82,92,R,R,R,R,R],
[0,0,0,1,2,3,3,4,5,6,8,10,14,18,35,40,92,85,R,R,R,R,R],
[0,0,0,1,2,3,4,5,5,6,8,12,14,20,38,42,62,85,R,R,R,R,R],
[0,0,0,1,2,3,3,5,5,8,10,12,18,22,38,48,58,78,R,R,R,R,R],
[0,0,0,1,2,3,3,4,5,10,8,12,18,24,38,50,62,88,R,R,R,R,R],
[0,0,0,1,2,3,4,5,6,8,10,8,14,20,35,48,75,88,R,R,R,R,R],
[0,0,0,1,2,2,3,4,5,6,10,10,12,24,42,48,85,R,R,R,R,R,R],
[0,0,1,1,2,3,4,5,8,10,10,8,22,20,48,50,72,R,R,R,R,R,R],
[0,0,1,1,2,3,3,5,6,10,12,8,20,20,42,52,80,R,R,R,R,R,R],
[1,1,1,1,2,2,3,4,6,8,10,10,14,26,45,55,82,R,R,R,R,R,R],
[1,1,1,1,2,2,3,4,5,6,8,10,14,20,48,58,85,R,R,R,R,R,R],
[1,1,1,1,2,2,2,3,4,6,6,8,12,20,42,45,72,95,R,R,R,R,R],
[1,1,1,1,2,2,2,3,4,5,6,8,10,18,30,40,75,85,R,R,R,R,R],
[1,1,1,1,2,2,2,3,4,5,6,8,6,14,25,35,62,90,95,R,R,R,R],
[1,1,1,1,2,2,2,3,3,4,6,6,10,16,25,35,60,80,92,R,R,R,R],
[1,1,1,1,2,2,2,3,3,4,6,8,10,16,22,32,52,62,82,92,R,R,R],
[1,1,1,1,2,2,2,3,3,4,5,6,8,14,20,30,50,62,R,92,95,R,R],
[1,1,1,1,2,2,2,3,3,4,5,6,10,14,20,32,48,62,62,85,80,R,R],
[1,1,1,2,2,2,2,3,3,4,6,8,10,14,20,30,42,62,55,80,70,75,95],
[1,1,1,2,2,2,2,3,3,3,5,6,8,12,18,25,38,50,52,62,88,70,82],
[1,1,1,2,2,2,2,3,3,3,4,6,8,10,16,22,35,42,48,60,72,58,72],
[1,1,1,2,2,2,2,3,3,3,4,5,6,10,14,22,30,36,48,55,45,45,60],
[1,1,2,2,2,2,2,3,3,3,3,4,6,8,14,15,42,36,48,60,42,45,60],
[2,2,2,2,2,2,2,3,3,3,3,4,5,8,12,22,25,35,40,58,40,58,55],
[2,2,2,2,2,2,2,3,3,3,3,4,5,6,12,16,22,25,30,30,38,40,40],
[2,2,2,2,2,2,2,3,3,3,3,3,5,6,10,14,20,25,24,26,28,32,35],
[2,2,2,2,2,2,2,3,3,3,3,3,4,6,8,12,12,25,18,18,20,20,28],
[2,2,2,2,2,2,2,2,3,3,3,2,4,6,8,12,14,18,18,16,16,16,26],
[2,2,2,2,2,2,2,2,3,3,3,2,4,6,8,10,12,18,16,12,12,12,22],
[2,2,2,2,2,2,2,2,3,3,3,3,3,5,6,10,16,22,14,12,12,14,14],
[2,2,2,2,2,2,2,2,3,3,3,3,4,5,5,6,14,20,14,12,8,14,16],
[2,2,2,2,2,2,2,2,3,3,3,3,4,5,4,5,12,16,12,8,12,14,16],
[2,2,2,2,2,2,2,2,3,3,3,3,4,4,5,6,12,12,8,4,8,12,14],
[2,2,2,2,2,2,2,2,3,3,3,4,5,4,4,6,10,10,7,6,8,12,14],
[2,2,2,2,2,2,2,2,3,3,3,4,5,4,3,8,10,6,8,8,10,12,14],
[2,2,2,2,2,2,2,2,3,3,3,3,4,3,3,6,10,8,8,8,10,12,14]];
const rainbow=['#8000ff','#4062fa','#00b5eb','#40ecd4','#80ffb4','#bfec8e','#ffb462','#ff6232','#ff0000'];

const FONT='"DejaVu Sans"', INK='#262626';
const richOf=s=>({n:{fontSize:s,color:INK,fontFamily:FONT},i:{fontSize:s,fontStyle:'italic',color:INK,fontFamily:FONT},
  s:{fontSize:s*0.7,fontStyle:'italic',color:INK,fontFamily:FONT,padding:[s*0.62,0,0,0]}});
const X_NAME='{n|[}{i|Fe/H}{n|]}{s|PGS}{n| (dex)}', Y_NAME='{i|V}{s|ϕ, PGS}{n|  (km/s)}', N_NAME='{i|N}{s|stars}';

const option={animation:false,backgroundColor:'#fff',title:[],grid:[],xAxis:[],yAxis:[],series:[],graphic:[],
  visualMap:[
    {type:'continuous',show:false,min:-50,max:100,dimension:2,seriesIndex:[],inRange:{color:rainbow}},
    {type:'continuous',show:false,min:0,max:100,dimension:2,seriesIndex:[],inRange:{color:rainbow}}]};

function cells(rows){const out=[];rows.forEach((row,r)=>row.forEach((v,c)=>{if(v!==_)out.push([c,r,v]);}));return out;}
const fmtFeh=v=>'\u2212'+Math.abs(v).toFixed(1);
const fmtV=v=>v<0?'\u2212'+Math.abs(v):String(v);

function panel(p){
  const g=option.grid.length; option.grid.push({left:p.x,top:p.y,width:p.w,height:p.h,outerBoundsMode:'none',containLabel:false});
  const xc=option.xAxis.length,yc=option.yAxis.length;
  option.xAxis.push({type:'category',gridIndex:g,data:fehBins,show:false});
  option.yAxis.push({type:'category',gridIndex:g,data:vphiBins,inverse:true,show:false});
  option.xAxis.push({type:'value',gridIndex:g,min:-4,max:-1.7,position:'bottom',scale:true,
    axisLine:{show:true,lineStyle:{color:'#999',width:1}},splitLine:{show:false},
    axisTick:{show:true,customValues:fehTicks,length:3,lineStyle:{color:'#444'}},
    axisLabel:{show:p.xLabel,customValues:fehTicks,formatter:fmtFeh,fontSize:p.tick,color:INK,fontFamily:FONT,margin:p.xMargin},
    name:p.xLabel?X_NAME:'',nameLocation:'middle',nameGap:p.xGap,nameTextStyle:{rich:richOf(p.xNameSize)}});
  option.yAxis.push({type:'value',gridIndex:g,min:-250,max:250,position:'left',scale:true,
    axisLine:{show:true,lineStyle:{color:'#999',width:1}},splitLine:{show:false},
    axisTick:{show:true,customValues:vphiTicks,length:3,lineStyle:{color:'#444'}},
    axisLabel:{show:p.yLabel,customValues:vphiTicks,formatter:fmtV,fontSize:p.tick,color:INK,fontFamily:FONT,margin:6,padding:[p.yLabelPad,0,0,0]},
    name:p.yLabel?Y_NAME:'',nameLocation:'middle',nameRotate:90,nameGap:p.yGap,nameTextStyle:{rich:richOf(p.nameSize)}});
  option.visualMap[p.vm].seriesIndex.push(option.series.length);
  option.series.push({type:'heatmap',xAxisIndex:xc,yAxisIndex:yc,data:cells(p.rows),silent:true,progressive:0,z:2,emphasis:{disabled:true}});
  const line=(pts,st)=>option.series.push({type:'line',xAxisIndex:xc+1,yAxisIndex:yc+1,data:pts,symbol:'none',silent:true,z:st.z||5,clip:false,lineStyle:st,animation:false});
  const dash={color:'#000',width:1.6,type:[3,2],z:5};
  const frame={color:'#666',width:1,type:[3,2],z:4};
  [250,-250].forEach(v=>line([[-4,v],[-1.7,v]],frame));
  [-4,-1.7].forEach(v=>line([[v,-250],[v,250]],frame));
  dashedVphi.forEach(v=>line([[-4,v],[-1.7,v]],dash));
  dashedFeh.forEach(v=>line([[v,-250],[v,250]],dash));
  line([[-4,0],[-1.7,0]],{color:'#000',width:4,type:'solid',z:6});
  option.title.push({text:p.title,left:p.x+p.w/2+p.titleDx,top:p.titleY,textAlign:'center',textVerticalAlign:'middle',
    textStyle:{fontSize:p.titleSize,fontWeight:'normal',color:INK,fontFamily:FONT,lineHeight:p.titleSize*1.15}});
}

function colorbar(b){
  const g=option.grid.length; option.grid.push({left:b.x,top:b.y,width:b.w,height:b.h,outerBoundsMode:'none',containLabel:false});
  const xc=option.xAxis.length,yc=option.yAxis.length;
  const levels=[];for(let i=0;i<120;i++)levels.push(b.min+(b.max-b.min)*(i+0.5)/120);
  option.xAxis.push({type:'category',gridIndex:g,data:['bar'],show:false});
  option.yAxis.push({type:'category',gridIndex:g,data:levels.map(String),show:false});
  option.xAxis.push({type:'value',gridIndex:g,min:0,max:1,show:false});
  option.yAxis.push({type:'value',gridIndex:g,min:b.min,max:b.max,position:'right',scale:true,
    axisLine:{show:false},splitLine:{show:false},
    axisTick:{show:true,customValues:b.ticks,length:3,lineStyle:{color:'#666'}},
    axisLabel:{show:true,customValues:b.ticks,formatter:v=>String(v),fontSize:b.tick,color:INK,fontFamily:FONT,margin:b.margin,padding:[b.pad,0,0,0]},
    name:b.name,nameLocation:'middle',nameRotate:90,nameGap:b.gap,nameTextStyle:{rich:richOf(b.nameSize)}});
  option.visualMap[b.vm].seriesIndex.push(option.series.length);
  option.series.push({type:'heatmap',xAxisIndex:xc,yAxisIndex:yc,silent:true,progressive:0,emphasis:{disabled:true},
    data:levels.map((v,i)=>[0,i,v])});
  option.series.push({type:'line',xAxisIndex:xc+1,yAxisIndex:yc+1,data:[],symbol:'none',silent:true});
  if(b.ext){
    option.graphic.push({type:'polygon',silent:true,shape:{points:[[b.x,b.y],[b.x+b.w,b.y],[b.x+b.w/2,b.y-b.ext]]},style:{fill:'#ff0000'}});
    option.graphic.push({type:'polygon',silent:true,shape:{points:[[b.x,b.y+b.h],[b.x+b.w,b.y+b.h],[b.x+b.w/2,b.y+b.h+b.ext]]},style:{fill:'#8000ff'}});
  }
}

const LX=118.3,RX=667.3,PW=405.5,PH=223.2;
const rows=[
 {y:563.3,left:apogeeDensity,right:lamostDensity,vm:1,lt:'APOGEE\nDensity of contaminants',rt:'LAMOST\nDensity of contaminants',ty:535},
 {y:832.3,left:apogeePixel,right:lamostPixel,vm:0,lt:'Pixel-by-pixel decontamination',rt:'Pixel-by-pixel decontamination',ty:816},
 {y:1100.7,left:apogeeResidual,right:lamostResidual,vm:1,lt:'Residuals of p-b-p decontamination',rt:'Residuals of p-b-p decontamination',ty:1085},
 {y:1369.3,left:apogeeMean,right:lamostMean,vm:0,lt:'Decontamination by the mean',rt:'Decontamination by the mean',ty:1353}];
panel({x:358,y:28.5,w:464,h:301.5,rows:originalPgs,vm:0,xLabel:true,yLabel:true,tick:19.5,nameSize:23,xNameSize:24.3,xGap:37,yGap:76,xMargin:6,yLabelPad:3,title:'Original PGS',titleY:11,titleSize:24,titleDx:-4});
rows.forEach((r,i)=>{
  const last=i===3;
  const common={y:r.y,w:PW,h:PH,vm:r.vm,xLabel:last,tick:18,nameSize:21,xNameSize:22.8,xGap:35.5,yGap:72,xMargin:5.5,yLabelPad:4,titleY:r.ty,titleSize:22.8,titleDx:-5};
  panel(Object.assign({x:LX,rows:r.left,yLabel:true,title:r.lt},common));
  panel(Object.assign({x:RX,rows:r.right,yLabel:false,title:r.rt},common));
});
colorbar({x:851,y:28.5,w:14,h:301.5,min:-50,max:100,ticks:[-50,0,50,100],tick:16.5,margin:6,pad:3,name:N_NAME,gap:37,nameSize:23,vm:0});
colorbar({x:1099,y:563.3,w:12,h:223.2,min:0,max:100,ticks:[0,50,100],tick:22.5,margin:3,pad:6,name:'{i|N}{s|stars}{n|  (scaled)}',gap:50,nameSize:21,vm:1});
colorbar({x:1099,y:843,w:12,h:204,min:-50,max:100,ticks:[-50,0,50,100],tick:22.5,margin:3,pad:5,name:N_NAME,gap:50,nameSize:21,vm:0,ext:11});
colorbar({x:1099,y:1100.7,w:12,h:223.2,min:0,max:100,ticks:[0,50,100],tick:22.5,margin:3,pad:6,name:'{n|%}',gap:50,nameSize:21,vm:1});
colorbar({x:1099,y:1380,w:12,h:204,min:-50,max:100,ticks:[-50,0,50,100],tick:22.5,margin:3,pad:5,name:N_NAME,gap:50,nameSize:21,vm:0,ext:11});

const chart=echarts.init(document.getElementById('c'),null,{renderer:'canvas',width:1200,height:1679});
chart.setOption(option);
</script></body></html>
